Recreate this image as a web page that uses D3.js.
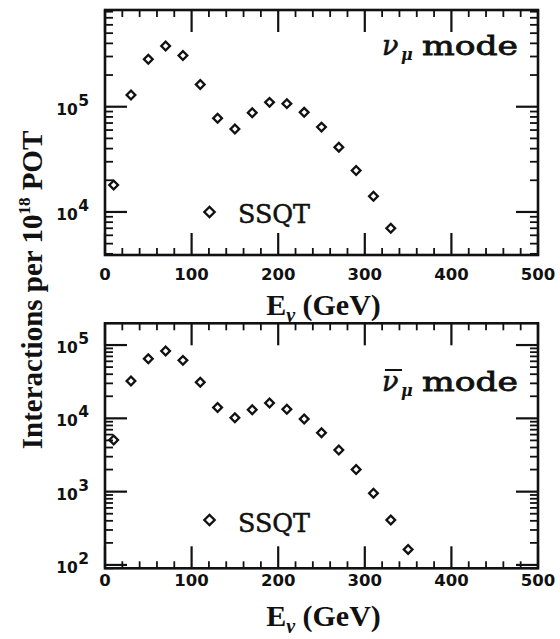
<!DOCTYPE html>
<html>
<head>
<meta charset="utf-8">
<script src="https://cdn.jsdelivr.net/npm/d3@7"></script>
<style>
  body { margin: 0; background: #fff; }
  svg { display: block; }
  .slab { font-family: "DejaVu Serif", serif; }
</style>
</head>
<body>
<svg id="fig" width="560" height="639"></svg>
<script>
// Neutrino-mode interaction spectrum (SSQT), 20 GeV bins
const energyNu = [10, 30, 50, 70, 90, 110, 130, 150, 170, 190, 210, 230, 250, 270, 290, 310, 330];
const ratesNu = [1.8e4, 1.29e5, 2.83e5, 3.78e5, 3.06e5, 1.63e5, 7.76e4, 6.13e4, 8.77e4, 1.10e5, 1.07e5, 8.84e4, 6.4e4, 4.13e4, 2.48e4, 1.41e4, 7.0e3];

// Antineutrino-mode interaction spectrum (SSQT)
const energyNuBar = [10, 30, 50, 70, 90, 110, 130, 150, 170, 190, 210, 230, 250, 270, 290, 310, 330, 350];
const ratesNuBar = [5.06e3, 3.23e4, 6.5e4, 8.28e4, 6.18e4, 3.1e4, 1.41e4, 1.02e4, 1.31e4, 1.62e4, 1.33e4, 9.8e3, 6.37e3, 3.7e3, 2.01e3, 950, 410, 163];

// Axis ticks
const xTickValues = [0, 100, 200, 300, 400, 500];
const xTickLabels = ["0", "100", "200", "300", "400", "500"];
const yExponentsNu = [4, 5];
const yExponentsNuBar = [2, 3, 4, 5];

const svg = d3.select("#fig");
const X0 = 105, X1 = 538;
const x = d3.scaleLinear().domain([0, 500]).range([X0, X1]);

const panels = [
  { top: 10, bottom: 255, domain: [3.9e3, 8.3e5], energy: energyNu, rates: ratesNu,
    exps: yExponentsNu, bar: false, modeBase: 55, legendY: 212, legendText: 223, xlabBase: 280, titleBase: 315 },
  { top: 323.3, bottom: 568.3, domain: [90, 1.98e5], energy: energyNuBar, rates: ratesNuBar,
    exps: yExponentsNuBar, bar: true, modeBase: 391, legendY: 520, legendText: 531.5, xlabBase: 586, titleBase: 626 }
];

const MAJ = 22, MIN = 7;
const ink = "#111";

panels.forEach(p => {
  const y = d3.scaleLog().domain(p.domain).range([p.bottom, p.top]);
  const g = svg.append("g");

  // frame
  g.append("rect")
    .attr("x", X0).attr("y", p.top)
    .attr("width", X1 - X0).attr("height", p.bottom - p.top)
    .attr("fill", "none").attr("stroke", ink).attr("stroke-width", 2.6);

  // x ticks, top and bottom, pointing inward
  const xMinor = d3.range(0, 501, 20).filter(v => v % 100 !== 0);
  const xt = g.append("g").attr("stroke", ink);
  xTickValues.forEach(v => {
    xt.append("line").attr("x1", x(v)).attr("x2", x(v)).attr("y1", p.bottom).attr("y2", p.bottom - MAJ).attr("stroke-width", 2.2);
    xt.append("line").attr("x1", x(v)).attr("x2", x(v)).attr("y1", p.top).attr("y2", p.top + MAJ).attr("stroke-width", 2.2);
  });
  xMinor.forEach(v => {
    xt.append("line").attr("x1", x(v)).attr("x2", x(v)).attr("y1", p.bottom).attr("y2", p.bottom - MIN).attr("stroke-width", 1.8);
    xt.append("line").attr("x1", x(v)).attr("x2", x(v)).attr("y1", p.top).attr("y2", p.top + MIN).attr("stroke-width", 1.8);
  });

  // y ticks, left and right (log decades + minor)
  const yAll = y.ticks();
  const yt = g.append("g").attr("stroke", ink);
  yAll.forEach(v => {
    const isMajor = Math.abs(Math.log10(v) - Math.round(Math.log10(v))) < 1e-9;
    const len = isMajor ? MAJ : 8;
    const sw = isMajor ? 2.2 : 1.8;
    yt.append("line").attr("x1", X0).attr("x2", X0 + len).attr("y1", y(v)).attr("y2", y(v)).attr("stroke-width", sw);
    yt.append("line").attr("x1", X1).attr("x2", X1 - len).attr("y1", y(v)).attr("y2", y(v)).attr("stroke-width", sw);
  });

  // x tick labels
  g.append("g").selectAll("text").data(xTickValues).join("text")
    .attr("x", d => x(d)).attr("y", p.xlabBase)
    .attr("text-anchor", "middle")
    .attr("font-family", "DejaVu Sans").attr("font-weight", "bold").attr("font-size", 16.5)
    .attr("fill", ink)
    .text((d, i) => xTickLabels[i]);

  // y tick labels 10^n
  p.exps.forEach(e => {
    const t = g.append("text")
      .attr("x", 89).attr("y", y(Math.pow(10, e)) + 8)
      .attr("text-anchor", "end")
      .attr("font-family", "DejaVu Sans").attr("font-weight", "bold").attr("font-size", 15.5)
      .attr("fill", ink);
    t.append("tspan").text("10");
    t.append("tspan").attr("dy", -9).attr("dx", 0.5).text(String(e));
  });

  // data points: open diamonds
  const diamond = d3.symbol().type(d3.symbolSquare).size(38);
  g.append("g").selectAll("path").data(p.energy.map((e, i) => [e, p.rates[i]])).join("path")
    .attr("d", diamond)
    .attr("transform", d => `translate(${x(d[0])},${y(d[1])}) rotate(45)`)
    .attr("fill", "none").attr("stroke", ink).attr("stroke-width", 2.3);

  // legend
  g.append("path")
    .attr("d", d3.symbol().type(d3.symbolSquare).size(54))
    .attr("transform", `translate(209.5,${p.legendY}) rotate(45)`)
    .attr("fill", "none").attr("stroke", ink).attr("stroke-width", 2.3);
  g.append("text")
    .attr("class", "slab")
    .attr("x", 238).attr("y", p.legendText)
    .attr("font-size", 26)
    .attr("stroke", ink).attr("stroke-width", 0.5)
    .attr("textLength", 72).attr("lengthAdjust", "spacingAndGlyphs")
    .attr("fill", ink).text("SSQT");

  // mode label
  g.append("text")
    .attr("x", 382).attr("y", p.modeBase)
    .attr("font-family", "DejaVu Serif").attr("font-style", "italic")
    .attr("font-size", 27).attr("fill", ink).attr("stroke", ink).attr("stroke-width", 0.6).text("ν");
  g.append("text")
    .attr("x", 401).attr("y", p.modeBase + 5)
    .attr("font-family", "DejaVu Serif").attr("font-style", "italic").attr("font-weight", "bold")
    .attr("font-size", 16).attr("fill", ink).text("μ");
  if (p.bar) {
    g.append("line")
      .attr("x1", 385).attr("x2", 402)
      .attr("y1", p.modeBase - 21).attr("y2", p.modeBase - 21)
      .attr("stroke", ink).attr("stroke-width", 2);
  }
  g.append("text")
    .attr("class", "slab")
    .attr("x", 422).attr("y", p.modeBase)
    .attr("font-size", 26)
    .attr("stroke", ink).attr("stroke-width", 0.8)
    .attr("textLength", 96).attr("lengthAdjust", "spacingAndGlyphs")
    .attr("fill", ink).text("mode");

  // x axis title
  const xt2 = g.append("text")
    .attr("x", (X0 + X1) / 2 + 2).attr("y", p.titleBase)
    .attr("text-anchor", "middle")
    .attr("font-family", "Liberation Serif").attr("font-weight", "bold").attr("font-size", 30)
    .attr("fill", ink);
  xt2.append("tspan").text("E");
  xt2.append("tspan").attr("dy", 7).attr("font-size", 20).attr("font-style", "italic").text("ν");
  xt2.append("tspan").attr("dy", -7).text(" (GeV)");
});

// shared y axis title
const yl = svg.append("text")
  .attr("transform", "translate(42,290) rotate(-90)")
  .attr("text-anchor", "middle")
  .attr("font-family", "Liberation Serif").attr("font-weight", "bold").attr("font-size", 29)
  .attr("fill", ink);
yl.append("tspan").text("Interactions per 10");
yl.append("tspan").attr("dy", -12).attr("font-size", 17).text("18");
yl.append("tspan").attr("dy", 12).text(" POT");
</script>
</body>
</html>
